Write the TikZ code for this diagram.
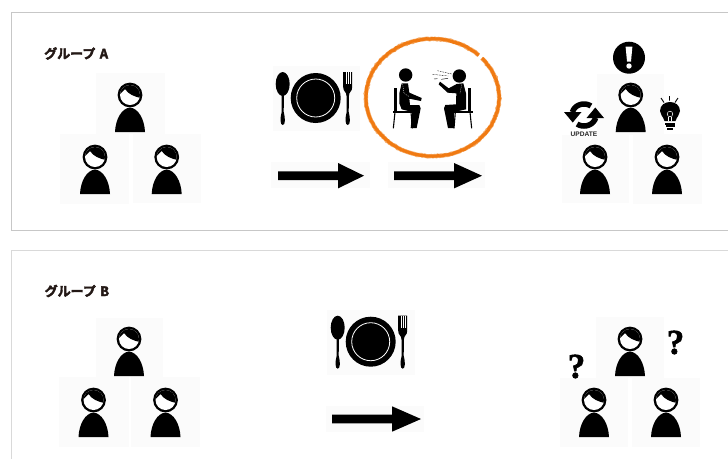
\documentclass[tikz,border=0pt]{standalone}
\usepackage{fontspec}
\newfontfamily\cjkhead[FakeBold=3]{Noto Sans CJK JP Bold}
\newfontfamily\labelsans{Liberation Sans}
\newfontfamily\qmark[BoldFeatures={FakeBold=1.5}]{Liberation Serif}
\usetikzlibrary{decorations.pathmorphing}
\definecolor{tilebg}{HTML}{FBFBFB}
\definecolor{ringorange}{HTML}{F07A12}
\definecolor{titleink}{HTML}{231815}
\newcommand\tile[4]{\fill[tilebg] (#1,#2) rectangle (#3,#4);}
\newcommand\bigarrow[4]{\fill[black] (#1,#4-4.3) -- (#2,#4-4.3) -- (#2,#4-12.7) -- (#3,#4) -- (#2,#4+12.7) -- (#2,#4+4.3) -- (#1,#4+4.3) -- cycle;}
\tikzset{
  frameline/.style={line width=1pt},
  grouptitle/.style={inner sep=0pt,anchor=west,text=titleink,font=\cjkhead\fontsize{13}{14}\selectfont},
  qglyph/.style={inner sep=0pt,font=\qmark\bfseries\fontsize{35}{36}\selectfont},
  person/.pic={
    \fill[black] (0,0) circle[radius=12.4pt];
    \begin{scope}
      \clip (0,0) circle[radius=10pt];
      \fill[white] (-11,-11) rectangle (11,11);
      \fill[black] (-11,0) .. controls (-8,-2) and (-7,-5) .. (-5,-6) .. controls (-2,-1) and (5,2) .. (11,3) -- (11,-12) -- (-11,-12) -- cycle;
    \end{scope}
    \fill[black] (-15,37) .. controls (-14.5,24) and (-8,13) .. (0,12.6) .. controls (8,13) and (14.5,24) .. (15,37) -- cycle;
  },
  tableset/.pic={
    \fill[black] (0,0) circle[radius=25pt];
    \draw[white,line width=.8pt] (0,0) circle[radius=19pt];
    % spoon
    \fill[black] (-33,-14) ellipse[x radius=7pt,y radius=12pt];
    \fill[black] (-34.2,-4) -- (-31.8,-4) -- (-32,14) .. controls (-30.3,20) and (-30.3,27) .. (-33,27) .. controls (-35.7,27) and (-35.7,20) .. (-34,14) -- cycle;
    % fork
    \fill[black] (27.5,-26) -- (36.5,-26) -- (36.5,-11) .. controls (36.5,-6) and (33.3,-7) .. (33.2,-2) -- (33,14) .. controls (34.7,20) and (34.7,27) .. (32,27) .. controls (29.3,27) and (29.3,20) .. (31,14) -- (30.8,-2) .. controls (30.7,-7) and (27.5,-6) .. (27.5,-11) -- cycle;
    \foreach \t in {30,32,34} \draw[white,line width=.4pt] (\t,-26) -- (\t,-14);
  },
  chairleg/.style={line width=1.1pt},
}
\begin{document}
\begin{tikzpicture}[x=1pt,y=-1pt]
\useasboundingbox (0,0) rectangle (728,459);
\fill[white] (0,0) rectangle (728,459);

% panels
\draw[frameline,draw=black!22] (728,12.5) -- (11.5,12.5) -- (11.5,230.5) -- (728,230.5);
\draw[frameline,draw=black!15] (728,250.5) -- (11.5,250.5) -- (11.5,459);

\node[grouptitle] (titleA) at (44,53.5) {グループ\,\,A};
\node[grouptitle] (titleB) at (44.5,291) {グループ\,\,B};

% tiles
\tile{96}{73}{165}{134}\tile{60}{134}{129}{204}\tile{133}{134}{201}{203}
\tile{597}{74}{664}{135}\tile{562}{135}{629}{203}\tile{633}{134}{702}{204}
\tile{96}{318}{163}{377}\tile{59}{377}{129}{447}\tile{131}{377}{200}{447}
\tile{596}{317}{664}{378}\tile{560}{378}{628}{447}\tile{632}{378}{700}{447}
\tile{273}{66}{360}{131}\tile{327}{310}{415}{375}
\tile{271}{162}{370}{188}\tile{388}{162}{485}{188}\tile{326}{406}{424}{432}

% people
\foreach \px/\py in {130/95,95/157,166.7/157, 630.7/95,595/157,667/157, 129/339,93.5/400,165.5/400, 630/339,594/400,666/400}
  \pic at (\px,\py) {person};

% table settings
\pic at (315.7,98) {tableset};
\pic at (370.7,341.7) {tableset};

% arrows
\bigarrow{278}{338}{364}{175.7}
\bigarrow{394}{454}{482}{175.7}
\bigarrow{332}{392}{421}{419}

% orange ring
\pgfmathsetseed{7}
\draw[ringorange!65,line width=4.2pt,decorate,decoration={random steps,segment length=1.6pt,amplitude=.6pt}]
  plot[domain=46:402,samples=120] ({432.5+66.6*cos(\x)},{97.5-58.8*sin(\x)});
\draw[ringorange,line width=3pt,decorate,decoration={random steps,segment length=2pt,amplitude=.5pt}]
  plot[domain=46:402,samples=120] ({432.5+66.6*cos(\x)},{97.5-58.8*sin(\x)});

% seated figures
\begin{scope}[shift={(380,50)},x=0.33333pt,y=-0.33333pt]
  % left figure
  \fill[black] (77,75) circle[radius=6.7pt];
  \fill[black] (41,114) rectangle (52,184);
  \fill[black] (40,183) rectangle (100,188);
  \draw[chairleg] (45,186) -- (40,235);
  \draw[chairleg] (93,186) -- (97,235);
  \fill[black] (65,100) -- (84,100) -- (88,128) -- (125,144) -- (123,153) -- (88,146) -- (90,165) -- (118,165) -- (122,175) -- (110,234) -- (92,234) -- (97,186) -- (65,178) -- (58,160) -- (58,130) -- cycle;
  \draw[white,line width=.3pt,dash pattern=on 1pt off 1pt] (68,102) -- (72,130) -- (88,140);
  % right figure
  \fill[black] (238,78) circle[radius=6.7pt];
  \fill[black] (264,114) rectangle (274,184);
  \fill[black] (218,183) rectangle (278,188);
  \draw[chairleg] (270,186) -- (275,235);
  \draw[chairleg] (226,186) -- (222,235);
  \fill[black] (230,102) -- (250,100) -- (258,130) -- (258,178) -- (222,186) -- (222,234) -- (204,234) -- (192,175) -- (196,165) -- (228,163) -- (229,130) -- (203,128) -- (176,103) -- (180,95) -- (206,115) -- cycle;
  \draw[white,line width=.3pt,dash pattern=on 1pt off 1pt] (245,104) -- (240,130);
  % speech marks
  \draw[black,line width=.35pt,dash pattern=on 1.6pt off 1pt] (172,62) -- (215,72);
  \draw[black,line width=.35pt,dash pattern=on 2pt off 1pt] (158,73) -- (205,78);
  \draw[black,line width=.45pt] (162,87) -- (172,86);
  \draw[black,line width=.45pt] (184,88) -- (204,85);
\end{scope}

% exclamation
\fill[black] (629,57.7) circle[radius=16pt];
\fill[white] (625.6,46.5) -- (632.4,46.5) -- (631,61.5) -- (627,61.5) -- cycle;
\fill[white] (629,66) circle[radius=2.7pt];

% refresh icon
\draw[black,line width=5.5pt] plot[domain=55:165,samples=20] ({584+12*cos(\x)},{115-11*sin(\x)});
\fill[black] (564,112) -- (581.5,112) -- (572.7,122.5) -- cycle;
\draw[black,line width=5.5pt] plot[domain=235:345,samples=20] ({584+12*cos(\x)},{115-11*sin(\x)});
\fill[black] (586.5,118) -- (604,118) -- (595.3,107.5) -- cycle;
\node[inner sep=0pt,font=\labelsans\bfseries\fontsize{6.6}{7}\selectfont,text=black!85] (updatelabel) at (584,134.3) {UPDATE};

% bulb
\fill[black] (664.5,121) .. controls (663,116) and (660,115) .. (660,111) .. controls (660,99) and (680,99) .. (680,111) .. controls (680,115) and (677,116) .. (675.5,121) -- cycle;
\draw[white,line width=.5pt] (670,114) circle[radius=2.8pt];
\draw[white,line width=.5pt] (668.6,116.5) -- (668.6,121) (671.4,116.5) -- (671.4,121);
\fill[black] (665,122.5) rectangle (675,124.5);
\fill[black] (665.5,125.3) rectangle (674.5,127.3);
\fill[black] (667,128) rectangle (673,130);
\draw[black,line width=.9pt] (661,98) -- (664,102.5) (669.5,96) -- (669.5,100.5) (678,98) -- (675,102.5);

% question marks
\node[qglyph] (qleft) at (576.5,366.5) {?};
\node[qglyph] (qright) at (675.5,342.5) {?};
\end{tikzpicture}
\end{document}
